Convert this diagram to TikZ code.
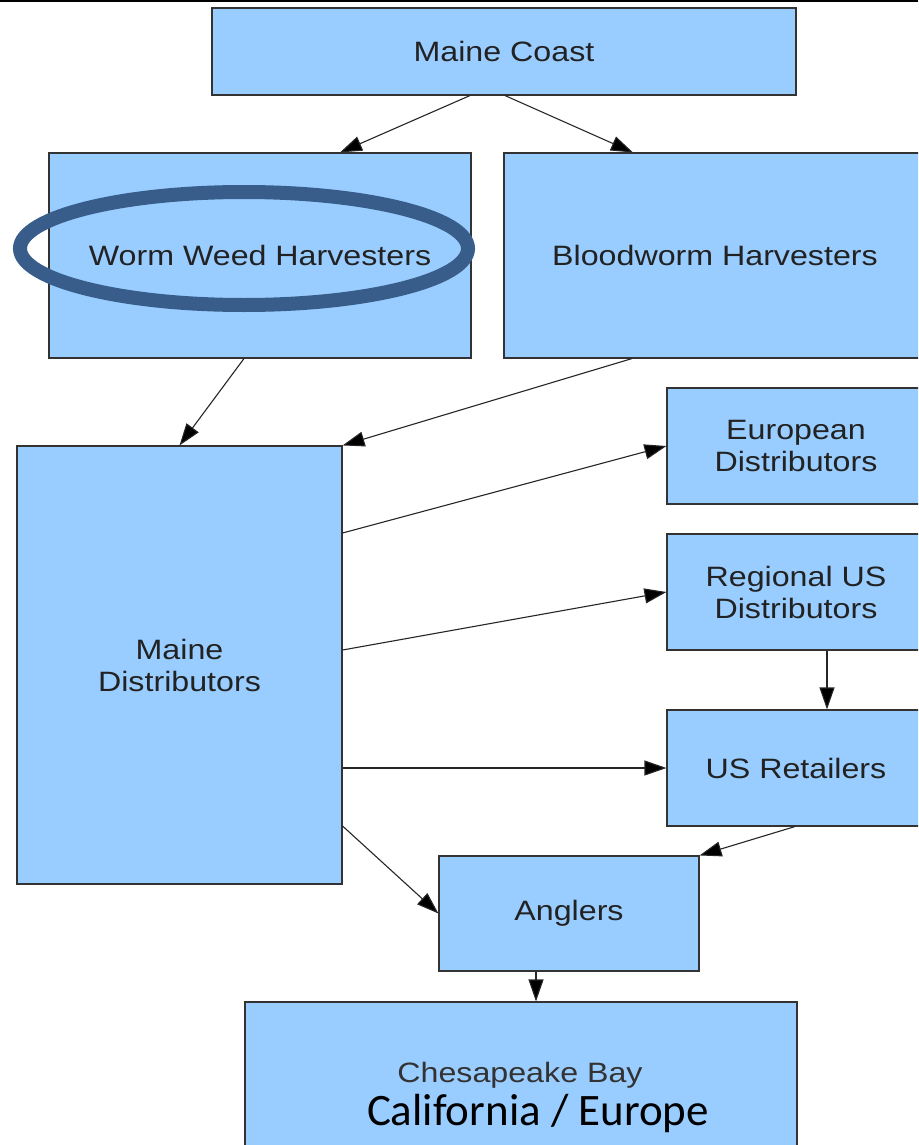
\documentclass[tikz,border=0pt]{standalone}
\usepackage{fontspec}
\usetikzlibrary{arrows.meta,calc}
\newfontfamily\dfont{Liberation Sans}[FakeStretch=1.15]
\newfontfamily\cfont{Carlito}
\definecolor{boxfill}{HTML}{99CCFF}
\definecolor{boxline}{HTML}{333333}
\definecolor{txt}{HTML}{222222}
\definecolor{ring}{HTML}{385D8A}
\tikzset{
  box/.style={draw=boxline, line width=1.1pt, fill=boxfill, rectangle, inner sep=0pt,
     text=txt, align=center, font=\dfont\fontsize{28}{32}\selectfont},
  lbl/.style={text=txt, align=center, inner sep=0pt, font=\dfont\fontsize{28}{32}\selectfont},
  conn/.style={draw=black!85, line width=1.1pt, -{Triangle[length=22pt,width=15pt,fill=black]}}
}
\begin{document}
\begin{tikzpicture}[x=1pt,y=-1pt]
\clip (0,0) rectangle (918,1145);
\fill[white] (0,0) rectangle (918,1145);
\draw[black, line width=2.5pt] (0,1) -- (918,1);
% boxes
\node[box, minimum width=584pt, minimum height=87pt] (mc) at (504,51.5) {Maine Coast};
\node[box, minimum width=422pt, minimum height=205pt] (ww) at (260,255.5) {Worm Weed Harvesters};
\node[box, minimum width=422pt, minimum height=205pt] (bw) at (715,255.5) {Bloodworm Harvesters};
\node[box, minimum width=325pt, minimum height=438pt] (md) at (179.5,665) {Maine\\Distributors};
\node[box, minimum width=258pt, minimum height=116pt] (eu) at (796,446) {European\\Distributors};
\node[box, minimum width=258pt, minimum height=116pt] (rg) at (796,592) {Regional US\\Distributors};
\node[box, minimum width=258pt, minimum height=116pt] (ur) at (796,768) {US Retailers};
\node[box, minimum width=260pt, minimum height=115pt] (an) at (569,913.5) {Anglers};
\node[box, minimum width=552pt, minimum height=198pt] (cb) at (521,1101) {};
\node[lbl, text=black!80] (cbt) at (520,1075) {Chesapeake Bay};
\node[inner sep=0pt, text=black, font=\cfont\fontsize{45}{50}\selectfont] (cat) at (538,1113) {California / Europe};
% highlight ellipse
\draw[ring, line width=14pt] (244,248.5) ellipse [x radius=224, y radius=56.5];
% connectors
\draw[conn] ([xshift=-34pt]mc.south) -- ([xshift=80pt]ww.north);
\draw[conn] ([xshift=1pt]mc.south) -- ([xshift=-82pt]bw.north);
\draw[conn] ([xshift=-16pt]ww.south) -- (md.north);
\draw[conn] ([xshift=-83pt]bw.south) -- (md.north east);
\draw[conn] ([yshift=132pt]md.east) -- (eu.west);
\draw[conn] ([yshift=15pt]md.east) -- (rg.west);
\draw[conn] ([yshift=-103pt]md.east) -- (ur.west);
\draw[conn] ([yshift=-161pt]md.east) -- (an.west);
\draw[conn] ([xshift=31pt]rg.south) -- ([xshift=31pt]ur.north);
\draw[conn] ([xshift=-1pt]ur.south) -- (an.north east);
\draw[conn] ([xshift=-33pt]an.south) -- ([xshift=15pt]cb.north);
\end{tikzpicture}
\end{document}
